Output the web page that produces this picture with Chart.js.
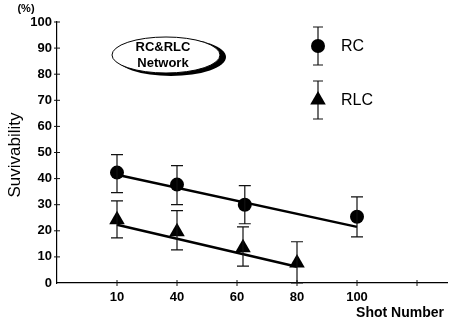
<!DOCTYPE html>
<html>
<head>
<meta charset="utf-8">
<script src="https://cdn.jsdelivr.net/npm/chart.js@4.4.0/dist/chart.umd.min.js"></script>
<style>
  html, body { margin: 0; padding: 0; background: #fff; }
  #wrap { width: 456px; height: 323px; }
</style>
</head>
<body>
<div id="wrap"><canvas id="survChart" width="456" height="323"></canvas></div>
<script>
// x axis tick labels (shot number), one per tick position 0..6
const xTickLabels = ['', '10', '40', '60', '80', '100', ''];
const yTickValues = [0, 10, 20, 30, 40, 50, 60, 70, 80, 90, 100];

// RC network
const rcX = [1, 2, 3.13, 5];
const rcY = [42.3, 37.7, 30.0, 25.4];
const rcLow = [34.6, 30.0, 22.7, 17.7];
const rcHigh = [49.2, 45.0, 37.3, 33.0];

// RLC network
const rlcX = [1, 2, 3.1, 4];
const rlcY = [24.2, 19.6, 13.5, 7.7];
const rlcLow = [17.3, 12.7, 6.5, 0];
const rlcHigh = [31.5, 27.7, 21.5, 15.8];

// trend lines, start and end
const rcFitX = [1, 5];
const rcFitY = [41.5, 21.5];
const rlcFitX = [1, 4];
const rlcFitY = [22.3, 6.2];

const FONT = '"Liberation Sans", Arial, sans-serif';

const toPts = (xs, ys) => xs.map((x, i) => ({ x: x, y: ys[i] }));

// error bars + crossing tick marks
const errorBars = {
    id: 'errorBars',
    afterDatasetsDraw(chart) {
        const ctx = chart.ctx;
        const xs = chart.scales.x, ys = chart.scales.y;
        ctx.save();
        ctx.strokeStyle = '#111';
        ctx.lineWidth = 1.2;
        chart.data.datasets.forEach(ds => {
            if (!ds.errLow) return;
            ds.data.forEach((p, i) => {
                const px = xs.getPixelForValue(p.x);
                const top = ys.getPixelForValue(ds.errHigh[i]);
                const bot = ys.getPixelForValue(ds.errLow[i]);
                ctx.beginPath();
                ctx.moveTo(px, top); ctx.lineTo(px, bot);
                ctx.moveTo(px - 6, top); ctx.lineTo(px + 6, top);
                ctx.moveTo(px - 6, bot); ctx.lineTo(px + 6, bot);
                ctx.stroke();
            });
        });
        // tick marks across the axes
        const ax = chart.chartArea.left, ay = chart.chartArea.bottom;
        ctx.lineWidth = 1;
        ctx.beginPath();
        yTickValues.forEach(v => {
            if (v === 0) return;
            const py = ys.getPixelForValue(v);
            ctx.moveTo(ax - 3, py); ctx.lineTo(ax + 3, py);
        });
        xTickLabels.forEach((l, i) => {
            if (i === 0) return;
            const px = xs.getPixelForValue(i);
            ctx.moveTo(px, ay - 3); ctx.lineTo(px, ay + 3);
        });
        ctx.stroke();
        ctx.restore();
    }
};

// titles, oval label and the legend
const annotations = {
    id: 'annotations',
    afterDraw(chart) {
        const ctx = chart.ctx;
        ctx.save();
        ctx.fillStyle = '#000';
        ctx.textAlign = 'center';
        ctx.textBaseline = 'middle';

        ctx.font = 'bold 11px ' + FONT;
        ctx.fillText('(%)', 26, 9);

        ctx.save();
        ctx.translate(15, 155);
        ctx.rotate(-Math.PI / 2);
        ctx.font = '17px ' + FONT;
        ctx.fillText('Suvivability', 0, 0);
        ctx.restore();

        ctx.font = 'bold 14px ' + FONT;
        ctx.fillText('Shot Number', 400, 313);

        // oval with shadow
        ctx.beginPath();
        ctx.ellipse(171, 57, 55, 19, 0, 0, Math.PI * 2);
        ctx.fill();
        ctx.beginPath();
        ctx.ellipse(166, 55, 54, 18, 0, 0, Math.PI * 2);
        ctx.fillStyle = '#fff';
        ctx.fill();
        ctx.lineWidth = 1;
        ctx.strokeStyle = '#000';
        ctx.stroke();
        ctx.fillStyle = '#000';
        ctx.font = 'bold 13px ' + FONT;
        ctx.fillText('RC&RLC', 163, 47);
        ctx.fillText('Network', 163, 63);

        // legend
        const items = [
            { ds: chart.data.datasets[2], y: 46, text: 'RC' },
            { ds: chart.data.datasets[3], y: 100, text: 'RLC' }
        ];
        items.forEach(it => {
            const lx = 318;
            ctx.strokeStyle = '#111';
            ctx.lineWidth = 1.2;
            ctx.beginPath();
            ctx.moveTo(lx, it.y - 19); ctx.lineTo(lx, it.y + 19);
            ctx.moveTo(lx - 5, it.y - 19); ctx.lineTo(lx + 5, it.y - 19);
            ctx.moveTo(lx - 5, it.y + 19); ctx.lineTo(lx + 5, it.y + 19);
            ctx.stroke();
            ctx.fillStyle = '#000';
            Chart.helpers.drawPoint(ctx, {
                pointStyle: it.ds.pointStyle,
                radius: it.ds.pointRadius,
                borderWidth: 0,
                rotation: 0
            }, lx, it.y);
            ctx.font = '16px ' + FONT;
            ctx.textAlign = 'left';
            ctx.fillText(it.text, 341, it.y + 1);
        });
        ctx.restore();
    }
};

new Chart(document.getElementById('survChart'), {
    type: 'scatter',
    data: {
        datasets: [
            {
                label: 'RC fit',
                type: 'line',
                data: toPts(rcFitX, rcFitY),
                borderColor: '#000',
                borderWidth: 2.5,
                pointRadius: 0
            },
            {
                label: 'RLC fit',
                type: 'line',
                data: toPts(rlcFitX, rlcFitY),
                borderColor: '#000',
                borderWidth: 2.5,
                pointRadius: 0
            },
            {
                label: 'RC',
                data: toPts(rcX, rcY),
                errLow: rcLow,
                errHigh: rcHigh,
                pointStyle: 'circle',
                pointRadius: 7,
                backgroundColor: '#000',
                borderColor: '#000',
                borderWidth: 0
            },
            {
                label: 'RLC',
                data: toPts(rlcX, rlcY),
                errLow: rlcLow,
                errHigh: rlcHigh,
                pointStyle: 'triangle',
                pointRadius: 9,
                backgroundColor: '#000',
                borderColor: '#000',
                borderWidth: 0
            }
        ]
    },
    options: {
        responsive: false,
        animation: false,
        layout: { padding: { top: 22, left: 0, right: 0, bottom: 0 } },
        plugins: {
            legend: { display: false },
            tooltip: { enabled: false }
        },
        scales: {
            x: {
                type: 'linear',
                min: 0,
                max: 6.5,
                afterBuildTicks: s => { s.ticks = xTickLabels.map((l, i) => ({ value: i })); },
                afterFit: s => { s.height = 40; },
                grid: { display: false, drawTicks: false },
                border: { display: true, color: '#000', width: 1.2 },
                ticks: {
                    padding: 7,
                    color: '#000',
                    font: { family: FONT, size: 13, weight: 'bold' },
                    callback: v => xTickLabels[v] || ''
                }
            },
            y: {
                min: 0,
                max: 100,
                afterBuildTicks: s => { s.ticks = yTickValues.map(v => ({ value: v })); },
                afterFit: s => { s.width = 57; },
                grid: { display: false, drawTicks: false },
                border: { display: true, color: '#000', width: 1.2 },
                ticks: {
                    padding: 5,
                    color: '#000',
                    font: { family: FONT, size: 13, weight: 'bold' }
                }
            }
        }
    },
    plugins: [errorBars, annotations]
});
</script>
</body>
</html>
